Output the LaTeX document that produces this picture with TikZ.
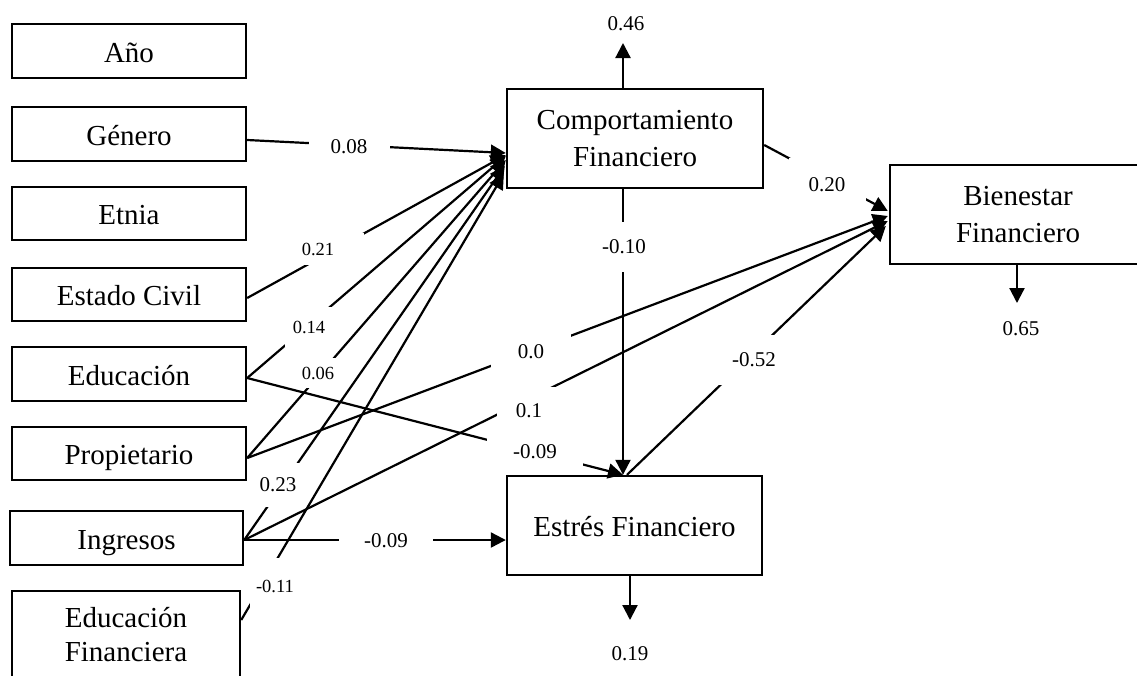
\documentclass[tikz,border=0pt]{standalone}
\usepackage{fontspec}
\setmainfont{Liberation Serif}
\usetikzlibrary{arrows.meta}
\begin{document}
\begin{tikzpicture}[x=1pt,y=-1pt,
  box/.style={draw, line width=2.4pt, inner sep=0pt, font=\fontsize{29}{37}\selectfont},
  sbox/.style={box, text height=24pt, text depth=2pt},
  mbox/.style={box, align=center},
  conn/.style={line width=2.2pt, -{Triangle[length=15pt,width=15pt]}},
  lab/.style={fill=white, inner sep=0pt, font=\fontsize{21}{24}\selectfont},
  slab/.style={lab, font=\fontsize{18.5}{22}\selectfont}]
\fill[white] (0,0) rectangle (1137,675);
\useasboundingbox (0,0) rectangle (1137,675);
\clip (0,0) rectangle (1137,675);

% boxes
\node[sbox, minimum width=234pt, minimum height=54pt] (ano) at (129,51) {Año};
\node[sbox, minimum width=234pt, minimum height=54pt] (gen) at (129,134) {Género};
\node[sbox, minimum width=234pt, minimum height=53pt] (etn) at (129,213.5) {Etnia};
\node[sbox, minimum width=234pt, minimum height=53pt] (est) at (129,294.5) {Estado Civil};
\node[sbox, minimum width=234pt, minimum height=54pt] (edu) at (129,374) {Educación};
\node[sbox, minimum width=234pt, minimum height=53pt] (pro) at (129,453.5) {Propietario};
\node[sbox, minimum width=233pt, minimum height=54pt] (ing) at (126.5,538) {Ingresos};
\node[mbox, minimum width=228pt, minimum height=88pt, font=\fontsize{29}{34}\selectfont] (edf) at (126,635) {Educación\\Financiera};
\node[mbox, minimum width=256pt, minimum height=99pt] (comp) at (635,138.5) {Comportamiento\\Financiero};
\node[mbox, minimum width=256pt, minimum height=99pt] (bien) at (1018,214.5) {Bienestar\\Financiero};
\node[sbox, minimum width=255pt, minimum height=99pt] (estr) at (634.5,525.5) {Estrés Financiero};

\coordinate (c46) at (623,43);
\coordinate (c65) at (1017,303);
\coordinate (c19) at (630,620);

% connectors into Comportamiento
\draw[conn] ([yshift=-6pt]gen.east) -- ([yshift=-14.5pt]comp.west);
\draw[conn] ([yshift=-3.5pt]est.east) -- ([yshift=-16.5pt]comp.west);
\draw[conn] ([yshift=-4pt]edu.east) -- ([yshift=-17.5pt]comp.west);
\draw[conn] ([yshift=-4.5pt]pro.east) -- ([yshift=-21.5pt]comp.west);
\draw[conn] ([yshift=-2pt]ing.east) -- ([xshift=-1pt,yshift=-27.5pt]comp.west);
\draw[conn] ([yshift=15pt]edf.east) -- ([xshift=-2pt,yshift=-35.5pt]comp.west);
% into Estres
\draw[conn] ([yshift=-4pt]edu.east) -- ([xshift=-11.5pt]estr.north);
\draw[conn] ([yshift=-2pt]ing.east) -- ([yshift=-14.5pt]estr.west);
\draw[conn] ([xshift=-12pt]comp.south) -- ([xshift=-11.5pt]estr.north);
% into Bienestar
\draw[conn] ([yshift=-6.5pt]comp.east) -- ([xshift=-1pt,yshift=3.5pt]bien.west);
\draw[conn] ([yshift=-4.5pt]pro.east) -- ([xshift=-1pt,yshift=-1.5pt]bien.west);
\draw[conn] ([yshift=-2pt]ing.east) -- ([xshift=-1pt,yshift=-6.5pt]bien.west);
\draw[conn] ([xshift=-7.5pt]estr.north) -- ([xshift=-3pt,yshift=-11.5pt]bien.west);
% residual arrows
\draw[conn] ([xshift=-12pt]comp.north) -- (c46);
\draw[conn] ([xshift=-1pt]bien.south) -- (c65);
\draw[conn] ([xshift=-4.5pt]estr.south) -- (c19);

% labels
\node[lab, minimum width=81pt, minimum height=20pt] (l08) at (349,147) {0.08};
\node[slab, minimum width=92pt, minimum height=32pt] (l21) at (318,249) {0.21};
\node[slab, minimum width=48pt, minimum height=40pt] (l14) at (309,327) {0.14};
\node[slab, minimum width=40pt, minimum height=30pt] (l06) at (318,373) {0.06};
\node[lab, minimum width=50pt, minimum height=50pt] (l10) at (624,247) {-0.10};
\node[lab, minimum width=72pt, minimum height=50pt] (l52) at (754,360) {-0.52};
\node[lab, minimum width=77pt, minimum height=54pt] (l20) at (827,185) {0.20};
\node[lab, minimum width=80pt, minimum height=40pt] (l00) at (531,352) {0.0};
\node[lab, minimum width=64pt, minimum height=48pt] (l01) at (529,411) {0.1};
\node[lab, minimum width=96pt, minimum height=28pt] (l09a) at (535,452) {-0.09};
\node[lab, minimum width=48pt, minimum height=44pt] (l23) at (278,485) {0.23};
\node[lab, minimum width=94pt, minimum height=24pt] (l09b) at (386,541) {-0.09};
\node[slab, minimum width=50pt, minimum height=56pt] (l11) at (275,586) {-0.11};
\node[lab] (l46) at (626,24) {0.46};
\node[lab] (l65) at (1021,329) {0.65};
\node[lab] (l19) at (630,654) {0.19};
\end{tikzpicture}
\end{document}
